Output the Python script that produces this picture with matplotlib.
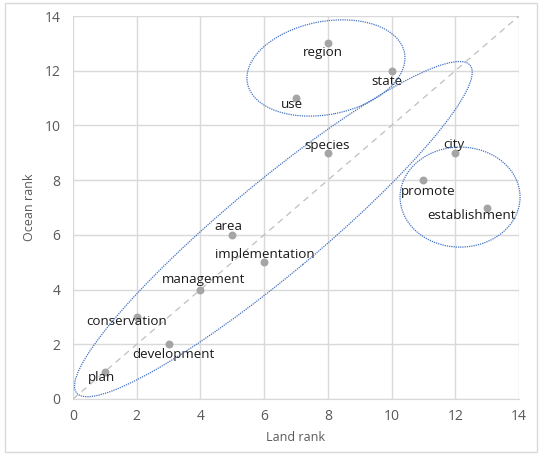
import matplotlib
matplotlib.use("Agg")
import matplotlib.pyplot as plt
from matplotlib.patches import Ellipse, Rectangle
from matplotlib.transforms import Affine2D

words = ["plan", "conservation", "development", "management", "area", "implementation",
         "species", "use", "region", "state", "city", "promote", "establishment"]
land_rank = [1, 2, 3, 4, 5, 6, 8, 7, 8, 10, 12, 11, 13]
ocean_rank = [1, 3, 2, 4, 6, 5, 9, 11, 13, 12, 9, 8, 7]
# label centres (data units)
label_x = [0.91, 1.69, 3.14, 4.11, 4.87, 6.03, 7.97, 6.87, 7.85, 9.86, 11.96, 11.14, 12.52]
label_y = [0.80, 2.85, 1.64, 4.35, 6.29, 5.30, 9.25, 10.78, 12.68, 11.59, 9.32, 7.60, 6.69]

# ellipses: centre in data units, size in pixels, angle in pixel space
ell_center = [(7.94, 12.10), (6.29, 6.21), (12.15, 7.38)]
ell_size = [(160, 93), (512, 92), (120, 100)]
ell_angle = [11, 39.8, 0]

fig = plt.figure(figsize=(5.39, 4.55), dpi=100)
ax = fig.add_axes([73 / 539, 56 / 455, 446 / 539, 383 / 455])

ax.set_xlim(0, 14)
ax.set_ylim(0, 14)
ax.set_xticks(range(0, 15, 2))
ax.set_yticks(range(0, 15, 2))
ax.grid(True, color="#D9D9D9", linewidth=1)
ax.set_axisbelow(True)
for s in ax.spines.values():
    s.set_visible(False)
ax.spines["bottom"].set_visible(True)
ax.spines["bottom"].set_color("#D9D9D9")
ax.tick_params(length=0, labelsize=10, labelcolor="#595959")
ax.tick_params(axis="y", pad=9)
ax.tick_params(axis="x", pad=7)
for t in ax.get_xticklabels() + ax.get_yticklabels():
    t.set_fontfamily("Open Sans")

ax.set_xlabel("Land rank", fontsize=9, color="#595959", family="Open Sans", labelpad=5)
ax.set_ylabel("Ocean rank", fontsize=9, color="#595959", family="Open Sans", labelpad=6)

ax.plot([0, 14], [0, 14], linestyle=(0, (5, 4)), color="#BFBFBF", linewidth=0.9, zorder=1)
ax.scatter(land_rank, ocean_rank, s=22, color="#A5A5A5", zorder=3)

for w, lx, ly in zip(words, label_x, label_y):
    ax.text(lx, ly, w, ha="center", va="center", fontsize=9.6, family="Open Sans",
            color="#1a1a1a", zorder=4)

ux = 446 / 14
uy = 383 / 14
tr = Affine2D().scale(1 / ux, 1 / uy) + ax.transData
for (cx, cy), (w, h), a in zip(ell_center, ell_size, ell_angle):
    e = Ellipse((cx * ux, cy * uy), w, h, angle=a, transform=tr, fill=False,
                edgecolor="#4472C4", linestyle=(0, (1, 0.8)), linewidth=0.9, zorder=5,
                clip_on=False)
    ax.add_patch(e)

fig.patches.append(Rectangle((5 / 539, 3 / 455), 532 / 539, 449 / 455,
                             transform=fig.transFigure, fill=False,
                             edgecolor="#D9D9D9", linewidth=1))

fig.savefig("out.png", dpi=100)
